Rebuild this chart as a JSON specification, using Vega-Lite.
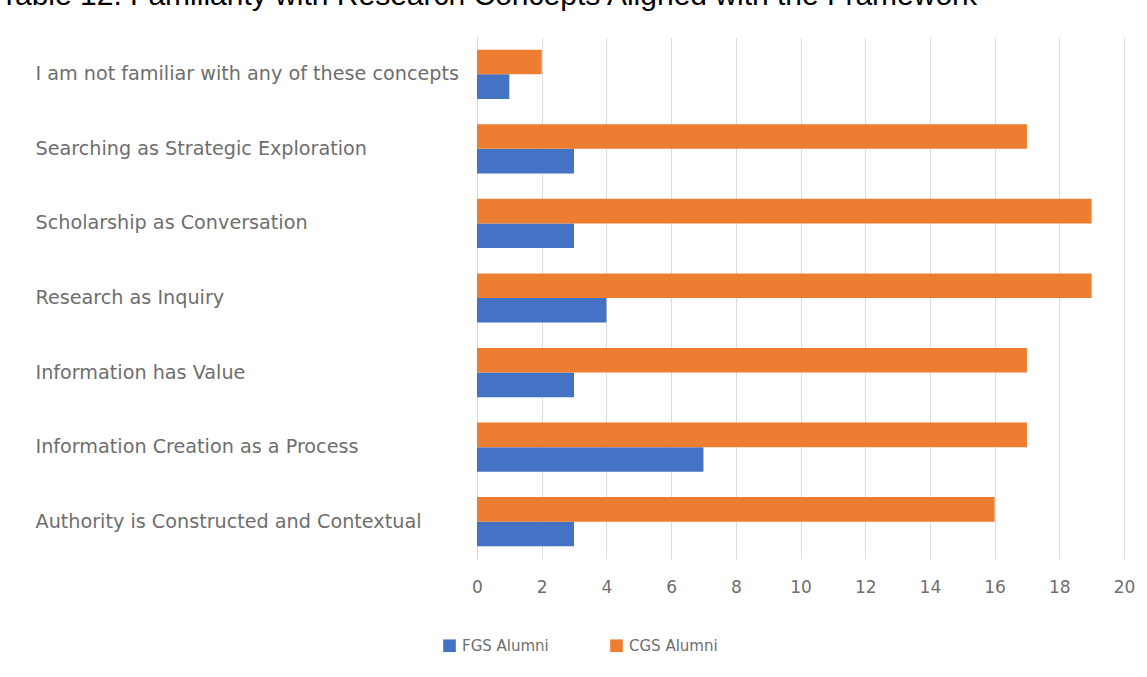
{
  "$schema": "https://vega.github.io/schema/vega-lite/v6.json",
  "width": 647,
  "height": 522,
  "autosize": {"type": "none"},
  "padding": {"left": 477, "top": 37, "right": 23, "bottom": 118},
  "background": "white",
  "title": {
    "text": "Table 12. Familiarity with Research Concepts Aligned with the Framework",
    "anchor": "start",
    "frame": "group",
    "dx": -477,
    "offset": 26,
    "font": "Liberation Sans",
    "fontSize": 30,
    "fontWeight": "normal",
    "color": "#000000"
  },
  "data": {
    "values": [
      {"concept": "I am not familiar with any of these concepts", "group": "FGS Alumni", "count": 1},
      {"concept": "I am not familiar with any of these concepts", "group": "CGS Alumni", "count": 2},
      {"concept": "Searching as Strategic Exploration", "group": "FGS Alumni", "count": 3},
      {"concept": "Searching as Strategic Exploration", "group": "CGS Alumni", "count": 17},
      {"concept": "Scholarship as Conversation", "group": "FGS Alumni", "count": 3},
      {"concept": "Scholarship as Conversation", "group": "CGS Alumni", "count": 19},
      {"concept": "Research as Inquiry", "group": "FGS Alumni", "count": 4},
      {"concept": "Research as Inquiry", "group": "CGS Alumni", "count": 19},
      {"concept": "Information has Value", "group": "FGS Alumni", "count": 3},
      {"concept": "Information has Value", "group": "CGS Alumni", "count": 17},
      {"concept": "Information Creation as a Process", "group": "FGS Alumni", "count": 7},
      {"concept": "Information Creation as a Process", "group": "CGS Alumni", "count": 17},
      {"concept": "Authority is Constructed and Contextual", "group": "FGS Alumni", "count": 3},
      {"concept": "Authority is Constructed and Contextual", "group": "CGS Alumni", "count": 16}
    ]
  },
  "mark": {"type": "bar"},
  "encoding": {
    "y": {
      "field": "concept",
      "type": "nominal",
      "sort": null,
      "scale": {"paddingInner": 0.34, "paddingOuter": 0.17},
      "axis": {
        "title": null,
        "ticks": false,
        "domain": true,
        "domainColor": "#D9D9D9",
        "grid": false,
        "labelAlign": "left",
        "labelPadding": 442,
        "labelLimit": 500,
        "labelFont": "DejaVu Sans",
        "labelFontSize": 19.2,
        "labelColor": "#6E6E6E"
      }
    },
    "yOffset": {
      "field": "group",
      "type": "nominal",
      "sort": ["CGS Alumni", "FGS Alumni"],
      "scale": {"paddingInner": 0, "paddingOuter": 0}
    },
    "x": {
      "field": "count",
      "type": "quantitative",
      "scale": {"domain": [0, 20]},
      "axis": {
        "title": null,
        "values": [0, 2, 4, 6, 8, 10, 12, 14, 16, 18, 20],
        "ticks": false,
        "domain": false,
        "grid": true,
        "gridColor": "#DDDDDD",
        "labelFont": "DejaVu Sans",
        "labelFontSize": 17,
        "labelColor": "#6E6E6E",
        "labelPadding": 20,
        "labelFlush": false
      }
    },
    "color": {
      "field": "group",
      "type": "nominal",
      "scale": {"domain": ["FGS Alumni", "CGS Alumni"], "range": ["#4472C4", "#ED7D31"]},
      "legend": {
        "title": null,
        "orient": "none",
        "legendX": -35,
        "legendY": 601,
        "direction": "horizontal",
        "symbolType": "square",
        "symbolSize": 160,
        "symbolStrokeWidth": 0,
        "labelFont": "DejaVu Sans",
        "labelFontSize": 15,
        "labelColor": "#6E6E6E",
        "columnPadding": 60,
        "labelOffset": 5
      }
    }
  },
  "config": {"view": {"stroke": null}}
}
